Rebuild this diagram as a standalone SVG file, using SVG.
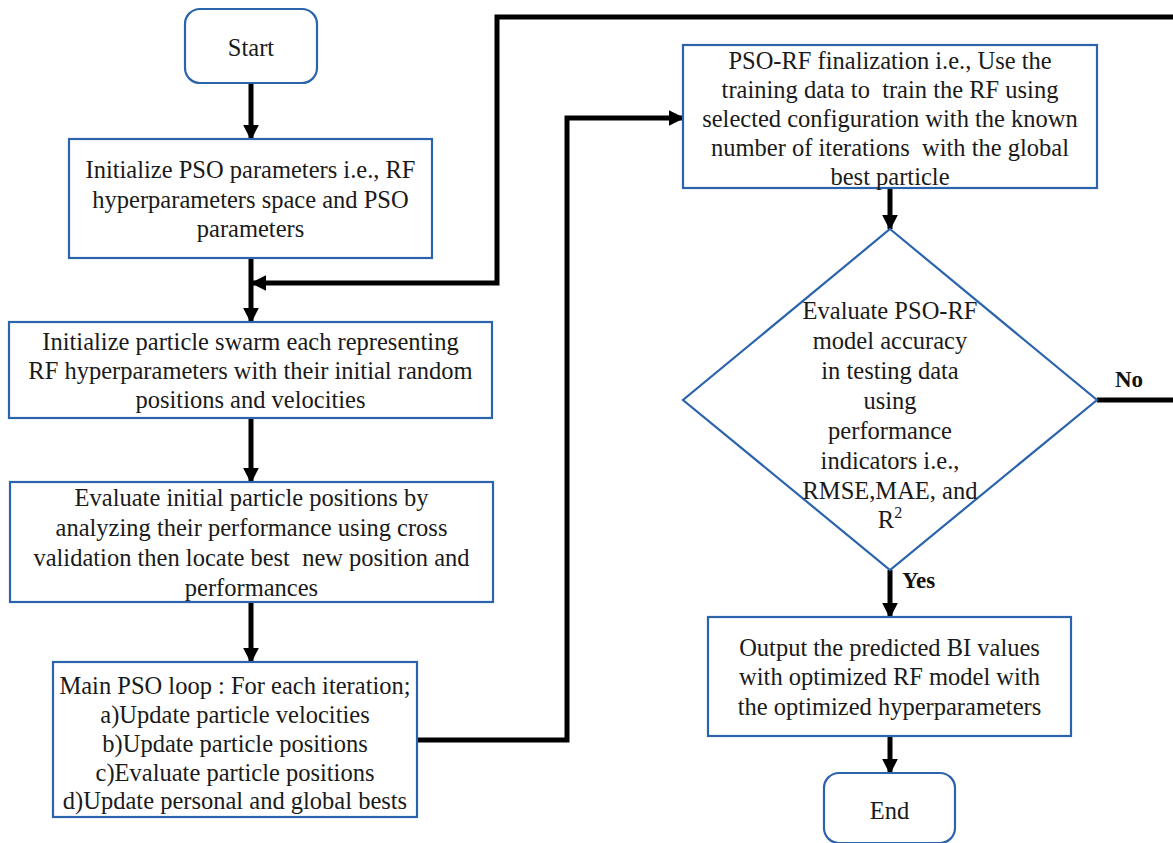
<svg xmlns="http://www.w3.org/2000/svg" width="1173" height="843" viewBox="0 0 1173 843" font-family="'Liberation Serif', 'Times New Roman', 'DejaVu Serif', serif">
<style>
.box{fill:#fff;stroke:#2b64ad;stroke-width:2.2}
.t{font-size:24.5px;fill:#1a1a1a;text-anchor:middle}
.lbl{font-size:23px;font-weight:bold;fill:#111}
.c{fill:none;stroke:#000;stroke-width:5}
</style>
<defs>
<marker id="ah" viewBox="0 0 10 10" refX="9" refY="5" markerWidth="3.2" markerHeight="3.2" orient="auto" markerUnits="strokeWidth">
<path d="M0,0 L10,5 L0,10 z" fill="#000"/>
</marker>
</defs>
<rect width="1173" height="843" fill="#fff"/>
<g id="connectors">
<line class="c" x1="251" y1="83" x2="251" y2="139" marker-end="url(#ah)"/>
<line class="c" x1="251" y1="258" x2="251" y2="322" marker-end="url(#ah)"/>
<line class="c" x1="251" y1="418" x2="251" y2="482" marker-end="url(#ah)"/>
<line class="c" x1="251" y1="602" x2="251" y2="662" marker-end="url(#ah)"/>
<polyline class="c" points="417,740 567,740 567,118 683,118" marker-end="url(#ah)"/>
<line class="c" x1="890" y1="188" x2="890" y2="229" marker-end="url(#ah)"/>
<line class="c" x1="890" y1="570" x2="890" y2="617" marker-end="url(#ah)"/>
<line class="c" x1="890" y1="736" x2="890" y2="773" marker-end="url(#ah)"/>
<polyline class="c" points="1097,400 1182,400 1182,17 497,17 497,283 252,283" marker-end="url(#ah)"/>
<text class="lbl" x="1115" y="387">No</text>
<text class="lbl" x="902" y="588">Yes</text>
</g>
<g id="start">
<rect class="box" x="185" y="9" width="132" height="74" rx="15"/>
<text class="t" x="251" y="56">Start</text>
</g>
<g id="init-pso">
<rect class="box" x="69" y="139" width="363" height="119"/>
<text class="t" x="250.5" y="178">Initialize PSO parameters i.e., RF</text>
<text class="t" x="250.5" y="208">hyperparameters space and PSO</text>
<text class="t" x="250.5" y="237">parameters</text>
</g>
<g id="init-swarm">
<rect class="box" x="9" y="322" width="483" height="96"/>
<text class="t" x="250.5" y="350">Initialize particle swarm each representing</text>
<text class="t" x="250.5" y="379">RF hyperparameters with their initial random</text>
<text class="t" x="250.5" y="408">positions and velocities</text>
</g>
<g id="evaluate-initial">
<rect class="box" x="10" y="482" width="483" height="120"/>
<text class="t" x="251.5" y="506">Evaluate initial particle positions by</text>
<text class="t" x="251.5" y="536">analyzing their performance using cross</text>
<text class="t" x="251.5" y="566" xml:space="preserve">validation then locate best  new position and</text>
<text class="t" x="251.5" y="596">performances</text>
</g>
<g id="main-loop">
<rect class="box" x="53" y="662" width="364" height="155"/>
<text class="t" x="235" y="694">Main PSO loop : For each iteration;</text>
<text class="t" x="235" y="723">a)Update particle velocities</text>
<text class="t" x="235" y="752">b)Update particle positions</text>
<text class="t" x="235" y="781">c)Evaluate particle positions</text>
<text class="t" x="235" y="809">d)Update personal and global bests</text>
</g>
<g id="finalization">
<rect class="box" x="683" y="45" width="414" height="143"/>
<text class="t" x="890" y="69">PSO-RF finalization i.e., Use the</text>
<text class="t" x="890" y="98" xml:space="preserve">training data to  train the RF using</text>
<text class="t" x="890" y="127">selected configuration with the known</text>
<text class="t" x="890" y="156" xml:space="preserve">number of iterations  with the global</text>
<text class="t" x="890" y="185">best particle</text>
</g>
<g id="evaluate-model">
<polygon class="box" points="890,229 1097,400 890,570 683,400"/>
<text class="t" x="890" y="319">Evaluate PSO-RF</text>
<text class="t" x="890" y="349">model accuracy</text>
<text class="t" x="890" y="379">in testing data</text>
<text class="t" x="890" y="409">using</text>
<text class="t" x="890" y="439">performance</text>
<text class="t" x="890" y="469">indicators i.e.,</text>
<text class="t" x="890" y="499">RMSE,MAE, and</text>
<text class="t" x="890" y="528">R<tspan font-size="16" dy="-10">2</tspan></text>
</g>
<g id="output">
<rect class="box" x="708" y="617" width="363" height="119"/>
<text class="t" x="889.5" y="656">Output the predicted BI values</text>
<text class="t" x="889.5" y="685">with optimized RF model with</text>
<text class="t" x="889.5" y="715">the optimized hyperparameters</text>
</g>
<g id="end">
<rect class="box" x="824" y="773" width="131" height="70" rx="15"/>
<text class="t" x="889.5" y="819">End</text>
</g>
</svg>
